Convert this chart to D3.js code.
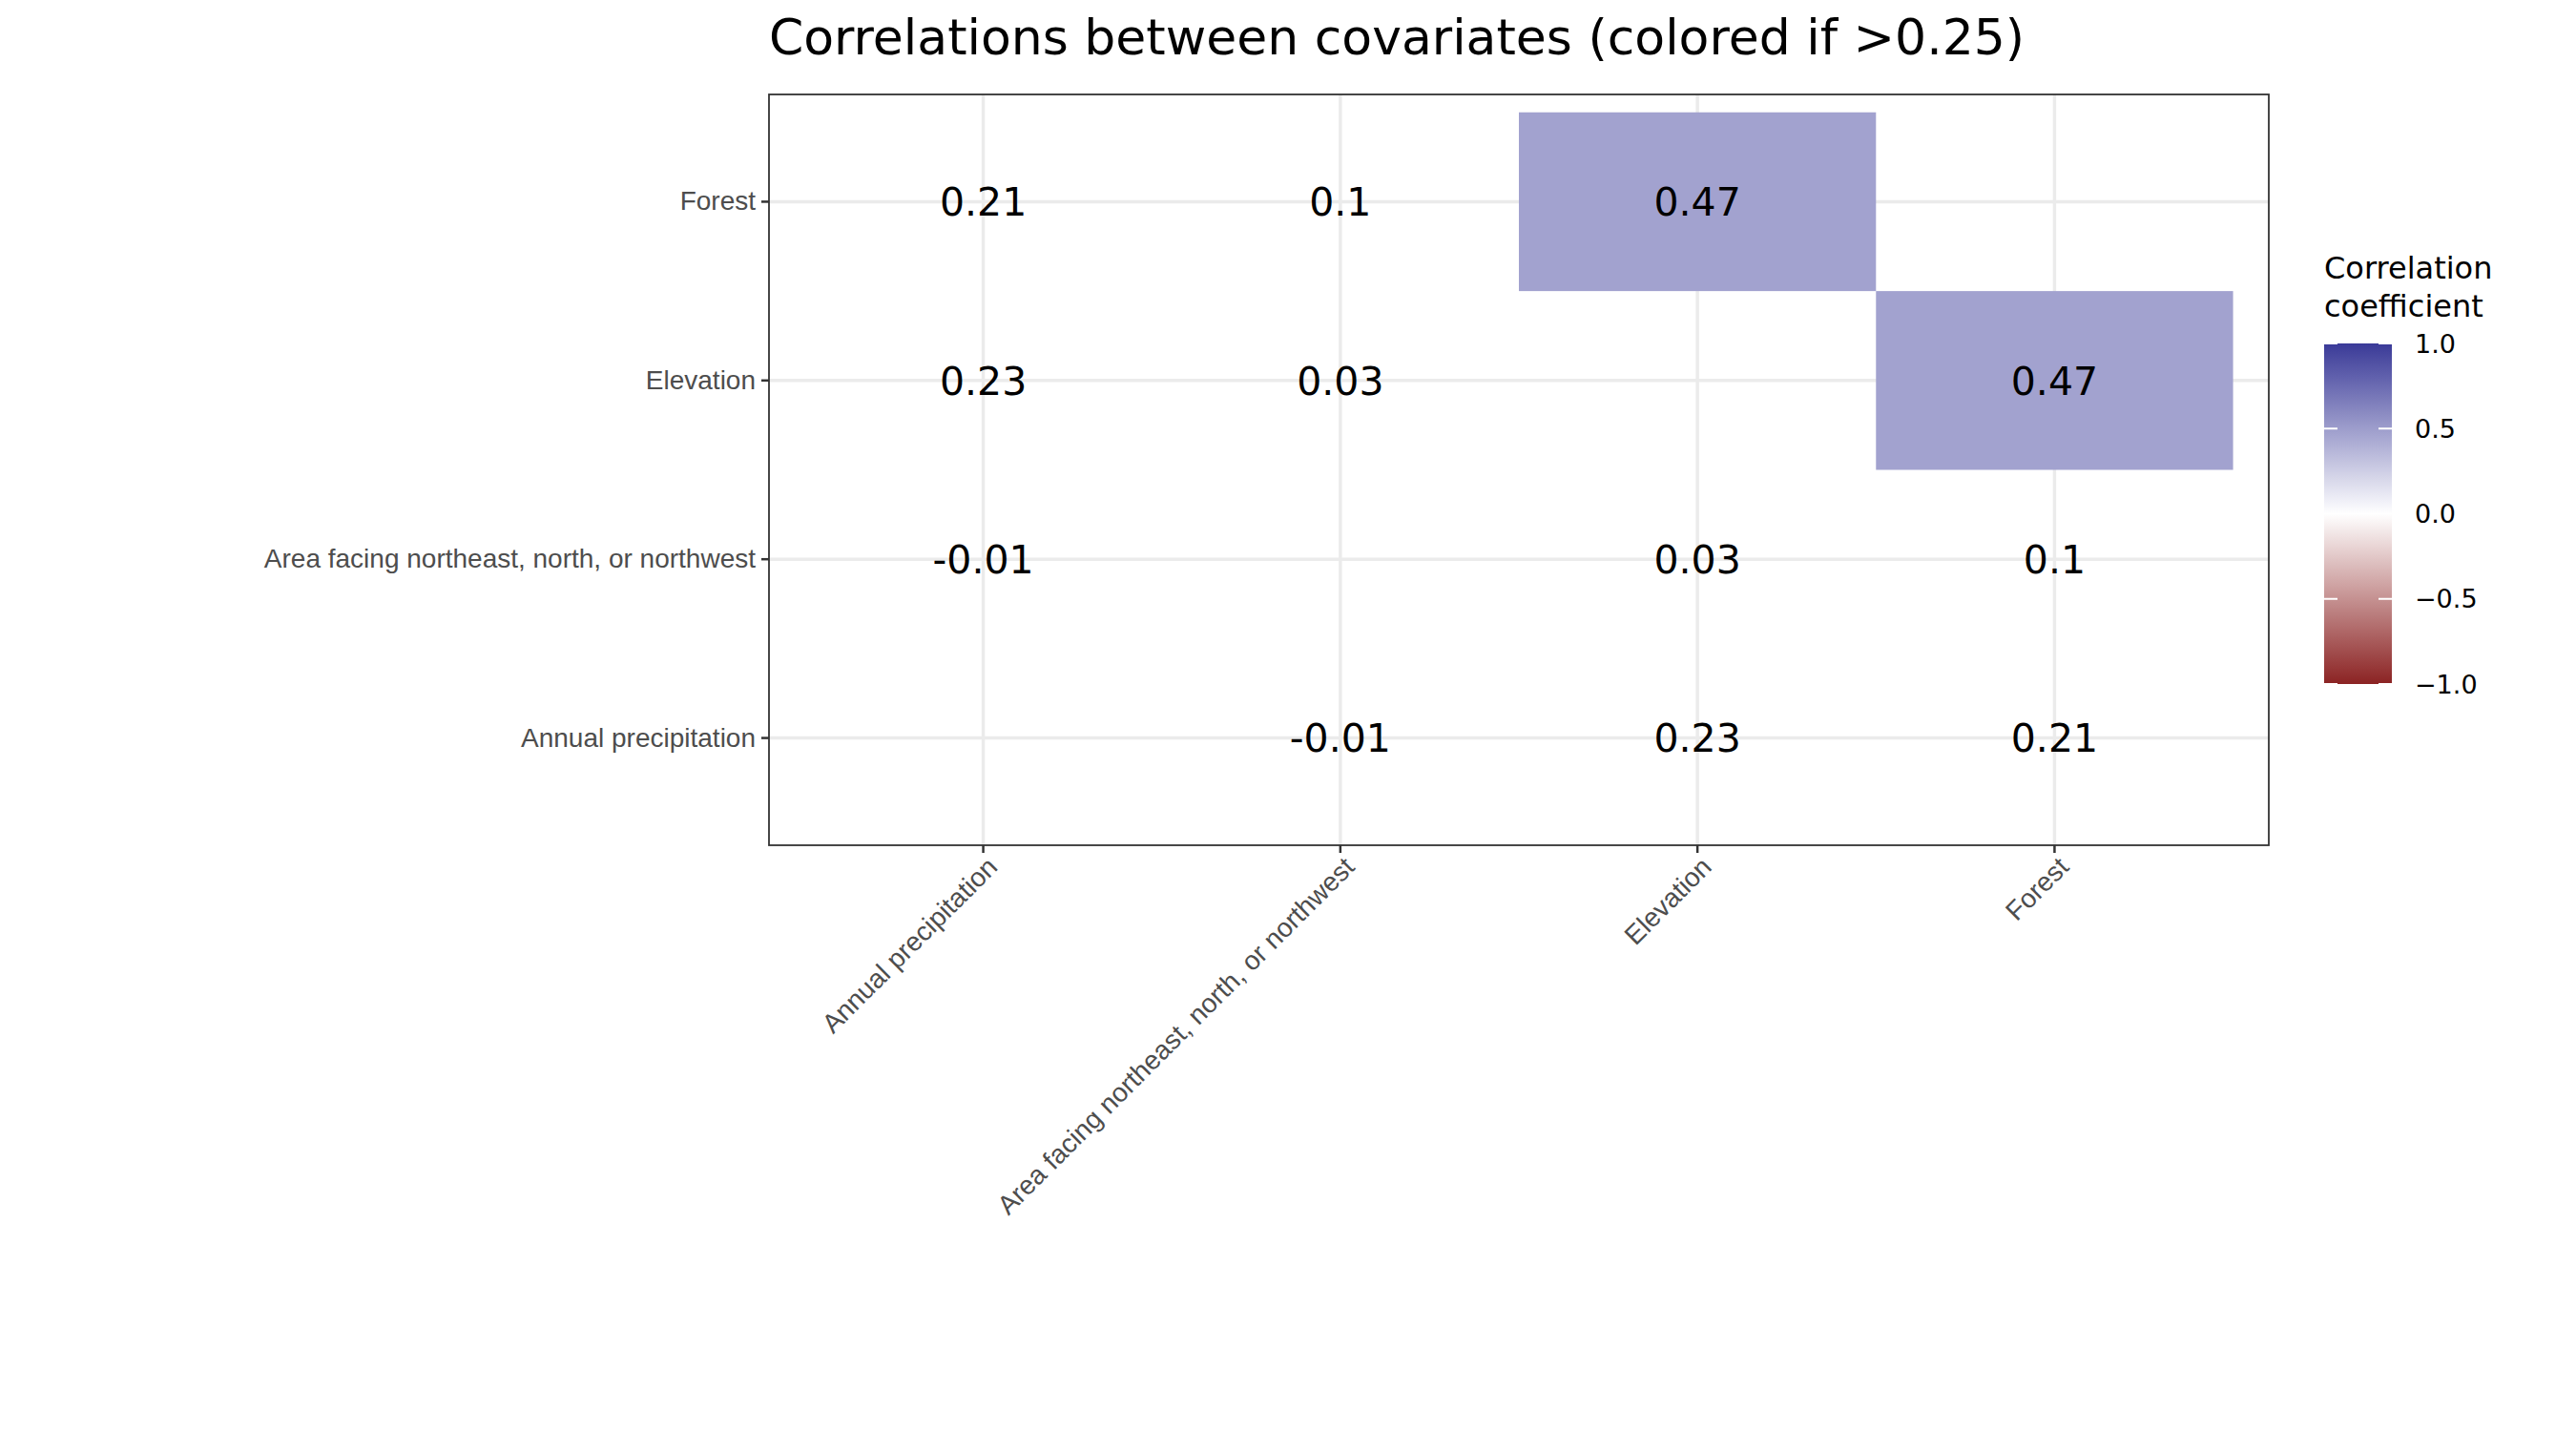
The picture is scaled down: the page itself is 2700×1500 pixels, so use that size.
<!DOCTYPE html>
<html><head><meta charset="utf-8">
<script src="https://cdn.jsdelivr.net/npm/d3@7"></script>
<style>body{margin:0;background:#fff;font-family:"DejaVu Sans",sans-serif;}</style>
</head><body>
<script>
const vars = ["Annual precipitation", "Area facing northeast, north, or northwest", "Elevation", "Forest"];
// [x, y, r]
const cells = [
  ["Annual precipitation", "Forest", 0.21],
  ["Area facing northeast, north, or northwest", "Forest", 0.1],
  ["Elevation", "Forest", 0.47],
  ["Annual precipitation", "Elevation", 0.23],
  ["Area facing northeast, north, or northwest", "Elevation", 0.03],
  ["Forest", "Elevation", 0.47],
  ["Annual precipitation", "Area facing northeast, north, or northwest", -0.01],
  ["Elevation", "Area facing northeast, north, or northwest", 0.03],
  ["Forest", "Area facing northeast, north, or northwest", 0.1],
  ["Area facing northeast, north, or northwest", "Annual precipitation", -0.01],
  ["Elevation", "Annual precipitation", 0.23],
  ["Forest", "Annual precipitation", 0.21]
];
const legendTicks = [1.0, 0.5, 0.0, -0.5, -1.0];
const threshold = 0.25;

const W = 2700, H = 1500;
const svg = d3.select("body").append("svg").attr("width", W).attr("height", H);
const L = 806, R = 2378, T = 99, B = 886;

const x = d3.scaleBand().domain(vars).range([L, R]).paddingOuter(0.1).paddingInner(0);
const y = d3.scaleBand().domain(vars.slice().reverse()).range([T, B]).paddingOuter(0.1).paddingInner(0);
const color = d3.scaleLinear().domain([-1, 0, 1]).range(["#8b2323", "#ffffff", "#3a3a98"]);

// grid
const g = svg.append("g");
vars.forEach(v => {
  g.append("line").attr("x1", x(v) + x.bandwidth()/2).attr("x2", x(v) + x.bandwidth()/2)
    .attr("y1", T).attr("y2", B).attr("stroke", "#ebebeb").attr("stroke-width", 3.5);
  g.append("line").attr("y1", y(v) + y.bandwidth()/2).attr("y2", y(v) + y.bandwidth()/2)
    .attr("x1", L).attr("x2", R).attr("stroke", "#ebebeb").attr("stroke-width", 3.5);
});

// tiles
svg.selectAll("rect.tile").data(cells.filter(d => d[2] > threshold)).join("rect")
  .attr("x", d => x(d[0])).attr("y", d => y(d[1]))
  .attr("width", x.bandwidth()).attr("height", y.bandwidth())
  .attr("fill", d => color(d[2]));

svg.selectAll("text.val").data(cells).join("text")
  .attr("x", d => x(d[0]) + x.bandwidth()/2).attr("y", d => y(d[1]) + y.bandwidth()/2)
  .attr("dy", "0.36em").attr("text-anchor", "middle").attr("font-size", 41).attr("fill", "#000")
  .text(d => d[2]);

svg.append("rect").attr("x", L).attr("y", T).attr("width", R - L).attr("height", B - T)
  .attr("fill", "none").attr("stroke", "#333").attr("stroke-width", 1.8);

// axes
const xa = svg.append("g").attr("transform", `translate(0,${B})`)
  .call(d3.axisBottom(x).tickSize(8).tickPadding(4));
xa.select(".domain").remove();
xa.selectAll("line").attr("stroke", "#333").attr("stroke-width", 2.5);
xa.selectAll("text").attr("font-size", 28).attr("fill", "#4d4d4d")
  .attr("text-anchor", "end").attr("dy", 0)
  .attr("transform", "translate(8,16) rotate(-45)");

const ya = svg.append("g").attr("transform", `translate(${L},0)`)
  .call(d3.axisLeft(y).tickSize(8).tickPadding(6));
ya.select(".domain").remove();
ya.selectAll("line").attr("stroke", "#333").attr("stroke-width", 2.5);
ya.selectAll("text").attr("font-size", 28).attr("fill", "#4d4d4d");

svg.append("text").attr("x", L).attr("y", 57).attr("font-size", 52).attr("fill", "#000")
  .text("Correlations between covariates (colored if >0.25)");

// legend
const lx = 2436, lw = 71, lt = 360, lb = 717;
const ly = d3.scaleLinear().domain([1, -1]).range([lt, lb]);
const grad = svg.append("defs").append("linearGradient").attr("id", "lg")
  .attr("x1", 0).attr("x2", 0).attr("y1", 0).attr("y2", 1);
d3.range(0, 1.0001, 0.05).forEach(t => grad.append("stop")
  .attr("offset", t).attr("stop-color", color(1 - 2 * t)));
svg.append("rect").attr("x", lx).attr("y", lt).attr("width", lw).attr("height", lb - lt).attr("fill", "url(#lg)");
legendTicks.forEach(v => {
  svg.append("line").attr("x1", lx).attr("x2", lx + 14).attr("y1", ly(v)).attr("y2", ly(v)).attr("stroke", "#fff").attr("stroke-width", 2);
  svg.append("line").attr("x1", lx + lw - 14).attr("x2", lx + lw).attr("y1", ly(v)).attr("y2", ly(v)).attr("stroke", "#fff").attr("stroke-width", 2);
  svg.append("text").attr("x", 2531).attr("y", ly(v)).attr("dy", "0.36em").attr("font-size", 27).attr("fill", "#000")
    .text(d3.format(".1f")(v));
});
svg.append("text").attr("x", 2436).attr("y", 292).attr("font-size", 32).text("Correlation");
svg.append("text").attr("x", 2436).attr("y", 332).attr("font-size", 32).text("coefficient");
</script>
</body></html>
